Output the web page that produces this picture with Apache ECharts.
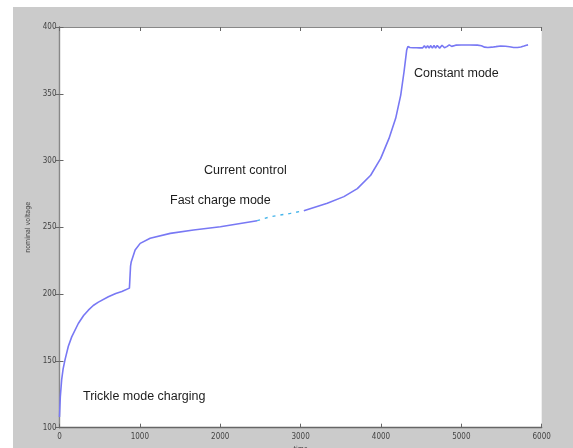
<!DOCTYPE html>
<html>
<head>
<meta charset="utf-8">
<script src="https://cdn.jsdelivr.net/npm/echarts@6/dist/echarts.min.js"></script>
<style>
  html, body { margin: 0; padding: 0; background: #ffffff; }
  #frame { position: absolute; left: 13px; top: 7px; right: 0; bottom: 0; background: #cbcbcb; }
  #chart { position: absolute; left: 0; top: 0; width: 573px; height: 448px; }
</style>
</head>
<body>
<div id="frame"></div>
<div id="chart"></div>
<script>
// Battery charging profile: nominal voltage against time

// Trickle charge and the start of fast charge
const rampTime = [0, 10, 27, 45, 69, 110, 152, 234, 300, 359, 420, 484, 608, 700, 776, 870, 878, 884, 892, 941, 1004, 1128, 1378, 1668, 2002, 2459];
const rampVolt = [108, 123, 136, 144, 151, 161, 168, 178, 184, 188, 191.5, 194, 198, 200.5, 202, 204.5, 205.5, 221, 224, 233, 238, 241.8, 245.5, 248, 250.5, 255];

// Short stretch of the trace recorded in a lighter pen
const gapTime = [2459, 2625, 2874, 3040];
const gapVolt = [255, 258, 260.5, 262.5];

// Current-controlled rise and the constant-voltage plateau
const riseTime = [3040, 3332, 3539, 3706, 3872, 3997, 4100, 4183, 4246, 4287, 4320, 4335,
  4360, 4380, 4400, 4420, 4440, 4460, 4480, 4500, 4520, 4540, 4560, 4580, 4600, 4620, 4640, 4660,
  4680, 4700, 4730, 4760, 4790, 4820, 4850, 4880, 4900, 4930, 5000, 5100, 5200, 5250, 5290, 5330,
  5380, 5430, 5490, 5550, 5600, 5650, 5700, 5740, 5780, 5810, 5830];
const riseVolt = [262.5, 268, 273, 279, 289, 301.6, 316.6, 331.6, 349, 366.5, 382.7, 385.4,
  384.6, 385.6, 384.5, 385.7, 384.5, 385.8, 384.4, 385.8, 384.4, 385.9, 384.3, 386.0, 384.3, 386.1, 384.2, 386.2,
  384.2, 386.2, 384.2, 386.3, 384.5, 385.3, 386.6, 385.5, 385.1, 386.4, 386.5, 386.5, 386.4, 386.0, 384.9, 384.6,
  384.9, 385.3, 385.8, 385.6, 385.2, 384.7, 384.6, 385.0, 385.7, 386.3, 386.6];

// Axis ranges and tick steps
const timeRange = [0, 6000];
const timeStep = 1000;
const voltRange = [100, 400];
const voltStep = 50;

// Text notes placed on the plot
const notes = [
  { text: 'Trickle mode charging', x: 83, y: 398 },
  { text: 'Fast charge mode', x: 170, y: 202 },
  { text: 'Current control', x: 204, y: 172 },
  { text: 'Constant mode', x: 414, y: 75 }
];

const zip = (xs, ys) => xs.map((x, i) => [x, ys[i]]);

const axisColor = '#666666';
const smallFamily = '"Liberation Sans Narrow", "DejaVu Sans Condensed", "Liberation Sans", sans-serif';
const tickFont = { fontFamily: smallFamily, fontSize: 8, color: '#444444', formatter: v => String(v) };

const chart = echarts.init(document.getElementById('chart'), null, { renderer: 'canvas' });

chart.setOption({
  backgroundColor: 'transparent',
  animation: false,
  grid: {
    left: 59.5, right: 31.3, top: 27, bottom: 20.3,
    outerBoundsMode: 'none', containLabel: false,
    show: true, backgroundColor: '#ffffff', borderWidth: 0
  },
  xAxis: [
    {
      type: 'value', min: timeRange[0], max: timeRange[1], interval: timeStep,
      position: 'bottom',
      name: 'time', nameLocation: 'middle', nameGap: 18,
      nameTextStyle: { fontFamily: smallFamily, fontSize: 7, color: '#444444' },
      axisLine: { show: true, lineStyle: { color: axisColor, width: 1.3 } },
      axisTick: { show: true, inside: true, length: 4, lineStyle: { color: axisColor } },
      axisLabel: Object.assign({ margin: 5 }, tickFont),
      splitLine: { show: false }
    },
    {
      type: 'value', min: timeRange[0], max: timeRange[1], interval: timeStep,
      position: 'top',
      axisLine: { show: true, lineStyle: { color: '#888888', width: 1 } },
      axisTick: { show: true, inside: true, length: 4, lineStyle: { color: axisColor } },
      axisLabel: { show: false },
      splitLine: { show: false }
    }
  ],
  yAxis: [
    {
      type: 'value', min: voltRange[0], max: voltRange[1], interval: voltStep,
      position: 'left',
      name: 'nominal voltage', nameLocation: 'middle', nameGap: 20,
      nameTextStyle: { fontFamily: smallFamily, fontSize: 7, color: '#444444' },
      axisLine: { show: true, lineStyle: { color: axisColor, width: 1.3 } },
      axisTick: { show: true, inside: true, length: 4, lineStyle: { color: axisColor } },
      axisLabel: Object.assign({ margin: 3 }, tickFont),
      splitLine: { show: false }
    },
    {
      type: 'value', min: voltRange[0], max: voltRange[1], interval: voltStep,
      position: 'right',
      axisLine: { show: true, lineStyle: { color: '#888888', width: 1 } },
      axisTick: { show: true, inside: true, length: 4, lineStyle: { color: axisColor } },
      axisLabel: { show: false },
      splitLine: { show: false }
    }
  ],
  series: [
    {
      type: 'line', data: zip(rampTime, rampVolt), showSymbol: false,
      smooth: false,
      lineStyle: { color: '#7878f4', width: 1.6 }
    },
    {
      type: 'line', data: zip(gapTime, gapVolt), showSymbol: false,
      lineStyle: { color: '#45b4ea', width: 1.4, type: [3, 5] }
    },
    {
      type: 'line', data: zip(riseTime, riseVolt), showSymbol: false,
      smooth: false,
      lineStyle: { color: '#7878f4', width: 1.6 }
    }
  ],
  graphic: notes.map(n => ({
    type: 'text', left: n.x, top: n.y - 8, z: 10,
    style: {
      text: n.text, fill: '#1c1c1c',
      font: '12.5px "Liberation Sans", Arial, sans-serif'
    }
  }))
});
</script>
</body>
</html>
